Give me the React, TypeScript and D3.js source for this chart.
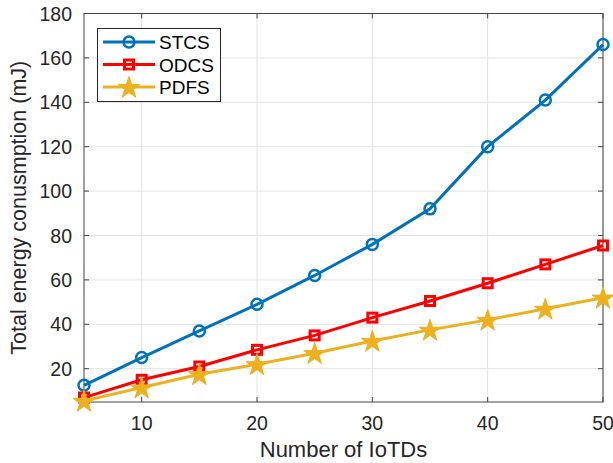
import React from "react";
import * as d3 from "d3";

const xValues = [5, 10, 15, 20, 25, 30, 35, 40, 45, 50];
const stcs = [12.5, 25, 37, 49, 62, 76, 92, 120, 141, 166];
const odcs = [7, 15, 21, 28.5, 35, 43, 50.5, 58.5, 67, 75.5];
const pdfs = [5.5, 11.5, 17.5, 22, 27, 32.5, 37.5, 42, 47, 52];
const xTicks = [10, 20, 30, 40, 50];
const yTicks = [20, 40, 60, 80, 100, 120, 140, 160, 180];
const seriesNames = ["STCS", "ODCS", "PDFS"];
const seriesColors = ["#0072BD", "#FF0000", "#EDB120"];
const seriesMarkers = ["circle", "square", "star"];

const W = 613, H = 463;
const m = { left: 84, right: 603, top: 13.5, bottom: 402 };

export default function App() {
  const x = d3.scaleLinear().domain([5, 50]).range([m.left, m.right]);
  const y = d3.scaleLinear().domain([5, 180]).range([m.bottom, m.top]);
  const data = [stcs, odcs, pdfs];
  const line = d3.line<number>().x((_, i) => x(xValues[i])).y((d) => y(d));
  const starPath = d3.symbol().type(d3.symbolStar).size(150)() as string;
  const font = "'Liberation Sans', Arial, Helvetica, sans-serif";

  const marker = (type: string, color: string, cx: number, cy: number, key: any) => {
    if (type === "circle")
      return <circle key={key} cx={cx} cy={cy} r={5.5} fill="none" stroke={color} strokeWidth={2.5} />;
    if (type === "square")
      return <rect key={key} x={cx - 4.5} y={cy - 4.5} width={9} height={9} fill="none" stroke={color} strokeWidth={3} />;
    return <path key={key} d={starPath} transform={`translate(${cx},${cy + 1})`} fill={color} stroke={color} strokeWidth={1} />;
  };

  return (
    <svg width={W} height={H} style={{ position: "absolute", left: 0, top: 0, background: "#fff" }}>
      <rect x={0} y={0} width={W} height={H} fill="#fff" />
      {xTicks.map((t) => (
        <line key={"gx" + t} x1={x(t)} x2={x(t)} y1={m.top} y2={m.bottom} stroke="#e3e3e3" strokeWidth={1} />
      ))}
      {yTicks.map((t) => (
        <line key={"gy" + t} x1={m.left} x2={m.right} y1={y(t)} y2={y(t)} stroke="#e3e3e3" strokeWidth={1} />
      ))}
      <rect x={m.left} y={m.top} width={m.right - m.left} height={m.bottom - m.top} fill="none" stroke="#444" strokeWidth={1} />
      {xTicks.map((t) => (
        <g key={"tx" + t}>
          <line x1={x(t)} x2={x(t)} y1={m.bottom} y2={m.bottom - 5} stroke="#444" />
          <line x1={x(t)} x2={x(t)} y1={m.top} y2={m.top + 5} stroke="#444" />
          <text x={x(t)} y={m.bottom + 28} textAnchor="middle" fontSize={19.5} fontFamily={font} fill="#262626">{t}</text>
        </g>
      ))}
      {yTicks.map((t) => (
        <g key={"ty" + t}>
          <line x1={m.left} x2={m.left + 5} y1={y(t)} y2={y(t)} stroke="#444" />
          <line x1={m.right} x2={m.right - 5} y1={y(t)} y2={y(t)} stroke="#444" />
          <text x={m.left - 12} y={y(t) + 7} textAnchor="end" fontSize={19.5} fontFamily={font} fill="#262626">{t}</text>
        </g>
      ))}
      <text x={(m.left + m.right) / 2} y={457} textAnchor="middle" fontSize={22} fontFamily={font} fill="#262626">Number of IoTDs</text>
      <text transform={`translate(26,${(m.top + m.bottom) / 2}) rotate(-90)`} textAnchor="middle" fontSize={21.5} fontFamily={font} fill="#262626">Total energy conusmption (mJ)</text>
      {data.map((s, k) => (
        <g key={"s" + k}>
          <path d={line(s) as string} fill="none" stroke={seriesColors[k]} strokeWidth={3} />
          {s.map((v, i) => marker(seriesMarkers[k], seriesColors[k], x(xValues[i]), y(v), i))}
        </g>
      ))}
      <rect x={97.5} y={28.5} width={123} height={73} fill="#fff" stroke="#262626" strokeWidth={1} />
      {seriesNames.map((n, k) => {
        const ly = 42 + k * 22.5;
        return (
          <g key={"l" + k}>
            <line x1={103} x2={155} y1={ly} y2={ly} stroke={seriesColors[k]} strokeWidth={3} />
            {marker(seriesMarkers[k], seriesColors[k], 129, ly, "m")}
            <text x={159} y={ly + 7} fontSize={19} fontFamily={font} fill="#000">{n}</text>
          </g>
        );
      })}
    </svg>
  );
}
